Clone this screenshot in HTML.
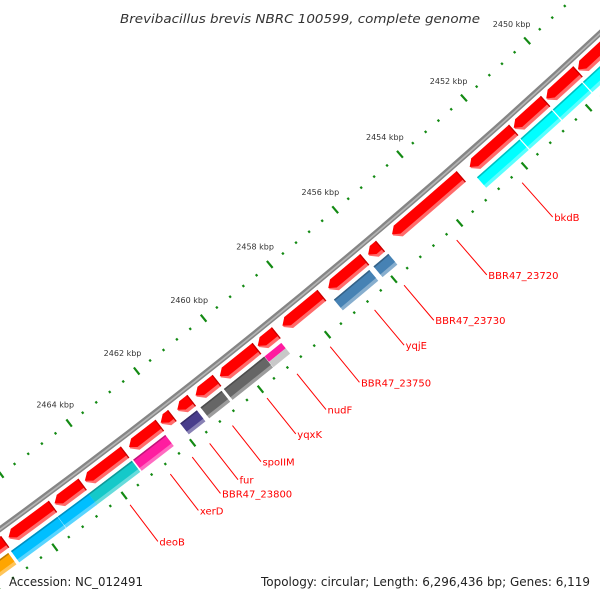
<!DOCTYPE html>
<html><head><meta charset="utf-8"><style>
html,body{margin:0;padding:0;background:#fff;width:600px;height:600px;overflow:hidden;}
svg{display:block;overflow:hidden;}
</style></head><body>
<svg id="map" width="600" height="600" viewBox="0 0 600 600" xmlns="http://www.w3.org/2000/svg">
<rect width="600" height="600" fill="#fff"/>
<text x="300" y="23" text-anchor="middle" font-family="DejaVu Sans, Liberation Sans, sans-serif" font-style="italic" font-size="12.5" fill="#333" textLength="360" lengthAdjust="spacingAndGlyphs">Brevibacillus brevis NBRC 100599, complete genome</text>
<g id="ticks"></g>
<g id="backbone"></g>
<g id="row1"></g>
<g id="row2"></g>
<g id="labels"></g>
<text x="9" y="586" font-family="DejaVu Sans, Liberation Sans, sans-serif" font-size="12" fill="#222" textLength="134" lengthAdjust="spacingAndGlyphs">Accession: NC_012491</text>
<text x="261" y="586" font-family="DejaVu Sans, Liberation Sans, sans-serif" font-size="12" fill="#222" textLength="329" lengthAdjust="spacingAndGlyphs">Topology: circular; Length: 6,296,436 bp; Genes: 6,119</text>
</svg>
<script>
// ---- data (kbp) ----
const tickMajorKbp = [2448,2450,2452,2454,2456,2458,2460,2462,2464];
const tickLabels = ["2448 kbp","2450 kbp","2452 kbp","2454 kbp","2456 kbp","2458 kbp","2460 kbp","2462 kbp","2464 kbp"];
const geneStarts = [2448.3,2449.61,2450.63,2451.63,2453.26,2455.74,2456.22,2457.52,2458.89,2459.47,2460.66,2461.41,2461.98,2462.35,2463.37,2464.61,2465.47,2466.85];
const geneEnds   = [2449.58,2450.58,2451.60,2452.97,2455.36,2456.09,2457.30,2458.68,2459.42,2460.55,2461.27,2461.81,2462.30,2463.23,2464.52,2465.40,2466.73,2467.6];
const cogStarts = [2448.3,2449.72,2450.67,2451.68,2455.72,2456.30,2459.46,2460.73,2461.46,2462.39,2463.37,2464.63,2465.53,2466.95];
const cogEnds   = [2449.69,2450.64,2451.65,2453.0,2456.17,2457.37,2460.66,2461.35,2461.95,2463.33,2464.66,2465.52,2466.87,2468.0];
const cogColors = ["#00ffff","#00ffff","#00ffff","#00ffff","#4682b4","#4682b4","#666666","#666666","#483d8b","#ff1ca0","#15c9c9","#00bfff","#00bfff","#ffa500"];
const splitStart = [2458.95], splitEnd = [2459.45];
const labelNames = ["bkdB","BBR47_23720","BBR47_23730","yqjE","BBR47_23750","nudF","yqxK","spoIIM","fur","BBR47_23800","xerD","deoB"];
const labelKbp   = [2452.30,2454.31,2455.91,2456.80,2458.13,2459.12,2460.01,2461.03,2461.70,2462.21,2462.85,2464.02];

// ---- geometry ----
const CX=-3827, CY=-4711;
function ang(k){return (47.5+(k-2450)*0.379)*Math.PI/180;}
function P(k,r){const a=ang(k);return [CX+r*Math.cos(a),CY+r*Math.sin(a)];}
function f(p){return p[0].toFixed(2)+" "+p[1].toFixed(2);}
const NS="http://www.w3.org/2000/svg";
function mk(tag,parent){const e=document.createElementNS(NS,tag);parent.appendChild(e);return e;}
function band(k1,k2,r1,r2){
  return "M"+f(P(k1,r1))+" A"+r1+" "+r1+" 0 0 1 "+f(P(k2,r1))+" L"+f(P(k2,r2))+" A"+r2+" "+r2+" 0 0 0 "+f(P(k1,r2))+" Z";
}
function arrow(k1,k2,r1,r2,rm){
  const h=Math.min(0.16,(k2-k1)*0.5);
  return "M"+f(P(k1,r1))+" A"+r1+" "+r1+" 0 0 1 "+f(P(k2-h,r1))+" L"+f(P(k2,rm))+" L"+f(P(k2-h,r2))+" A"+r2+" "+r2+" 0 0 0 "+f(P(k1,r2))+" Z";
}

// ticks
const tg=document.getElementById('ticks');
for(let i=0;i<=75;i++){
  const k=2440+i*0.4;
  const major=Math.abs((k/2)-Math.round(k/2))<1e-6;
  [6445,6536].forEach(function(r){
    const l=mk('line',tg);
    
    
    const a=P(k,major?r-4.5:r-1.2), b=P(k,major?r+4.5:r+1.2);
    l.setAttribute('x1',a[0]);l.setAttribute('y1',a[1]);l.setAttribute('x2',b[0]);l.setAttribute('y2',b[1]);
    l.setAttribute('stroke','#138a13');l.setAttribute('stroke-width','2.2');
  });
}
tickMajorKbp.forEach(function(k,i){
  const p=P(k,6422);
  const t=mk('text',tg);
  
  
  t.setAttribute('x',p[0]);t.setAttribute('y',p[1]+3);
  t.setAttribute('text-anchor','middle');t.setAttribute('font-family','DejaVu Sans, Liberation Sans, sans-serif');
  t.setAttribute('font-size','8');t.setAttribute('fill','#333');
  t.textContent=tickLabels[i];
});

// backbone
const bb=document.getElementById('backbone');
const b1=mk('path',bb);


b1.setAttribute('d',band(2440,2472,6486,6491.5));b1.setAttribute('fill','#858585');
const b2=mk('path',bb);


b2.setAttribute('d',band(2440,2472,6488.3,6490));b2.setAttribute('fill','#b4b4b4');

// row1 genes
const r1=document.getElementById('row1');
geneStarts.forEach(function(s,i){
  const e=geneEnds[i];
  const a=mk('path',r1);
  
  
  a.setAttribute('d',arrow(s,e,6495,6509,6502));a.setAttribute('fill','#ff6b6b');
  const b=mk('path',r1);
  
  
  b.setAttribute('d',arrow(s,e,6495,6505.5,6500.5));b.setAttribute('fill','#ff0000');
  const c=mk('path',r1);
  
  
  c.setAttribute('d',band(s,s+0.03,6495,6509));c.setAttribute('fill','#c80000');
});

// row2 COG blocks
const r2=document.getElementById('row2');
function lighten(hex){const n=parseInt(hex.slice(1),16);let r=n>>16,g=(n>>8)&255,b=n&255;r=Math.round(r+(255-r)*0.35);g=Math.round(g+(255-g)*0.35);b=Math.round(b+(255-b)*0.35);return "rgb("+r+","+g+","+b+")";}
function darken(hex){const n=parseInt(hex.slice(1),16);return "rgb("+Math.round((n>>16)*0.75)+","+Math.round(((n>>8)&255)*0.75)+","+Math.round((n&255)*0.75)+")";}
cogStarts.forEach(function(s,i){
  const e=cogEnds[i], col=cogColors[i];
  const a=mk('path',r2);
  
  
  a.setAttribute('d',band(s,e,6513,6527));a.setAttribute('fill',lighten(col));
  const b=mk('path',r2);
  
  
  b.setAttribute('d',band(s,e,6513,6523.5));b.setAttribute('fill',col);
  const c=mk('path',r2);
  
  
  c.setAttribute('d',band(s,e,6513,6514.5));c.setAttribute('fill',darken(col));
});
splitStart.forEach(function(s,i){
  const e=splitEnd[i];
  const a=mk('path',r2);
  
  
  a.setAttribute('d',band(s,e,6513,6520));a.setAttribute('fill','#ff1ca0');
  const b=mk('path',r2);
  
  
  b.setAttribute('d',band(s,e,6520,6527));b.setAttribute('fill','#c8c8c8');
});

// labels
const lg=document.getElementById('labels');
labelNames.forEach(function(n,i){
  const k=labelKbp[i];
  const a=P(k,6547), b=P(k,6593);
  const l=mk('line',lg);
  
  
  l.setAttribute('x1',a[0]);l.setAttribute('y1',a[1]);l.setAttribute('x2',b[0]);l.setAttribute('y2',b[1]);
  l.setAttribute('stroke','#ff0000');l.setAttribute('stroke-width','1');
  const t=mk('text',lg);
  
  
  t.setAttribute('x',b[0]+1.5);t.setAttribute('y',b[1]+4);
  t.setAttribute('font-family','DejaVu Sans, Liberation Sans, sans-serif');
  t.setAttribute('font-size','10');t.setAttribute('fill','#ff0000');
  t.textContent=n;
});
</script>
</body></html>
